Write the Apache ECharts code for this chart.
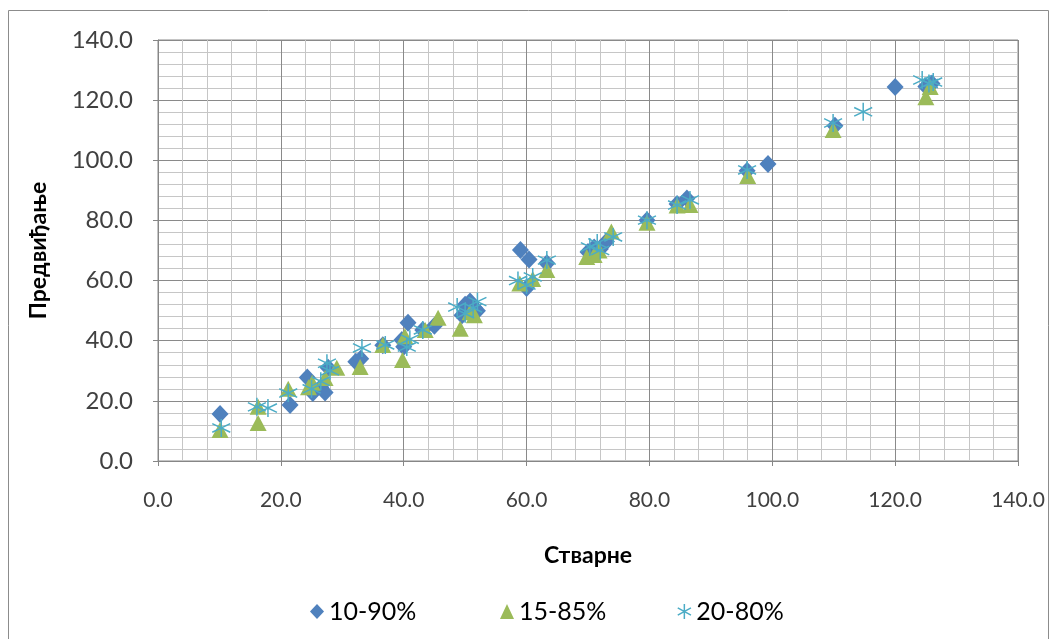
<!DOCTYPE html>
<html><head><meta charset="utf-8">
<script src="https://cdn.jsdelivr.net/npm/echarts@6/dist/echarts.min.js"></script>
<style>html,body{margin:0;padding:0;background:#fff}#c{width:1056px;height:639px}</style>
</head><body><div id="c"></div>
<script>
const seriesNames = ['10-90%', '15-85%', '20-80%'];
const xAxisTitle = 'Стварне';
const yAxisTitle = 'Предвиђање';
const axisMin = 0, axisMax = 140, axisStep = 20;

const s1090 = [[10.1,15.6],[21.5,18.6],[24.3,27.8],[25.2,22.6],[26.5,24.5],[27.2,22.8],[27.7,31.0],[32.2,33.0],[33.0,34.0],[36.6,38.5],[39.7,40.2],[40.0,38.0],[40.7,46.0],[43.1,43.6],[45.0,45.0],[49.5,48.5],[50.0,52.0],[50.8,53.0],[51.5,51.0],[52.0,50.0],[59.0,70.2],[60.4,67.0],[60.0,57.5],[63.3,65.8],[70.0,69.5],[71.0,71.0],[72.0,70.5],[73.0,73.0],[79.6,80.1],[84.5,85.5],[86.1,87.3],[95.9,96.5],[99.3,98.8],[110.2,111.5],[120.0,124.4],[125.0,124.5],[126.0,125.5]];
const s1585 = [[10.1,10.3],[16.3,18.0],[16.3,12.6],[21.2,24.0],[24.5,24.5],[25.1,26.0],[27.2,27.6],[29.1,31.0],[32.9,31.3],[36.6,38.6],[39.8,33.6],[40.2,41.5],[43.5,43.6],[45.6,47.6],[49.2,44.0],[50.8,49.5],[51.5,48.5],[58.9,59.0],[61.0,60.5],[63.3,63.5],[69.8,67.8],[71.0,68.5],[71.8,70.0],[73.8,76.3],[79.6,79.2],[84.5,85.0],[86.6,85.1],[96.0,94.8],[109.9,110.1],[125.0,121.0],[125.7,124.4]];
const s2080 = [[10.3,11.0],[16.1,18.0],[17.9,17.6],[21.2,22.6],[25.0,24.0],[26.5,26.5],[28.0,30.0],[27.5,32.5],[33.2,37.6],[37.0,38.6],[40.5,37.9],[41.0,40.5],[43.1,43.6],[48.7,51.2],[50.0,49.0],[51.3,50.9],[52.0,53.0],[58.6,60.0],[60.0,58.5],[61.0,61.2],[63.3,66.8],[70.3,71.2],[71.5,72.5],[72.0,70.0],[74.1,74.5],[79.6,80.1],[84.5,85.1],[86.6,86.8],[95.9,96.8],[109.9,112.4],[114.8,116.1],[124.4,126.7],[125.5,125.5],[126.2,126.0]];

const FONT = 'Lato, "Open Sans", sans-serif';
const starPath = 'path://M5,0L5,10M0.6,2.6L9.4,7.4M0.6,7.4L9.4,2.6';

const chart = echarts.init(document.getElementById('c'), null, {renderer:'canvas'});

function axis(name, isX){
  return {
    type:'value', min:axisMin, max:axisMax, interval:axisStep,
    name:name, nameLocation:'middle', nameGap: isX ? 83 : 108,
    nameTextStyle:{fontFamily:FONT, fontSize:23, fontWeight:'bold', color:'#000'},
    axisLine:{show:true, onZero:false, lineStyle:{color:'#868686', width:1}},
    axisTick:{show:true, length:5, lineStyle:{color:'#868686'}},
    minorTick:{show:false, splitNumber:5},
    axisLabel:{fontFamily:FONT, fontSize: isX ? 21 : 24, color:'#404040', margin: isX ? 29 : 25,
      formatter: v => v.toFixed(1)},
    splitLine:{show:true, lineStyle:{color:'#8a8a8a', width:1}},
    minorSplitLine:{show:true, lineStyle:{color:'#c6c6c6', width:1}}
  };
}

const legendIcons = [
  {icon:'diamond'},
  {icon:'triangle'},
  {icon:starPath, itemStyle:{color:'rgba(0,0,0,0)', borderColor:'#4BACC6', borderWidth:1.5}}
];
const legendLefts = [305, 495, 672];
const legends = seriesNames.map((n, i) => ({
  left: legendLefts[i], top:594, itemWidth:14, itemHeight:15,
  textStyle:{fontFamily:FONT, fontSize:25, color:'#000'},
  data:[Object.assign({name:n}, legendIcons[i])]
}));

chart.setOption({
  backgroundColor:'#fff',
  animation:false,
  graphic:[{type:'rect', shape:{x:8.5,y:10.5,width:1040,height:640}, style:{fill:'none', stroke:'#8c8c8c', lineWidth:1}, silent:true, z:-1}],
  grid:{left:158, right:38, top:40, bottom:178, show:true, borderColor:'#8a8a8a', borderWidth:1, backgroundColor:'#fff'},
  xAxis: axis(xAxisTitle, true),
  yAxis: axis(yAxisTitle, false),
  legend: legends,
  series:[
    {name:seriesNames[0], type:'scatter', data:s1090, symbol:'diamond', symbolSize:[17,18],
      itemStyle:{color:'#4F81BD', opacity:1}},
    {name:seriesNames[1], type:'scatter', data:s1585, symbol:'triangle', symbolSize:[17,16],
      itemStyle:{color:'#9BBB59', opacity:1}},
    {name:seriesNames[2], type:'scatter', data:s2080, symbol:starPath, symbolSize:[18,18],
      itemStyle:{color:'rgba(0,0,0,0)', borderColor:'#4BACC6', borderWidth:1.5, opacity:1}}
  ]
});
</script></body></html>
